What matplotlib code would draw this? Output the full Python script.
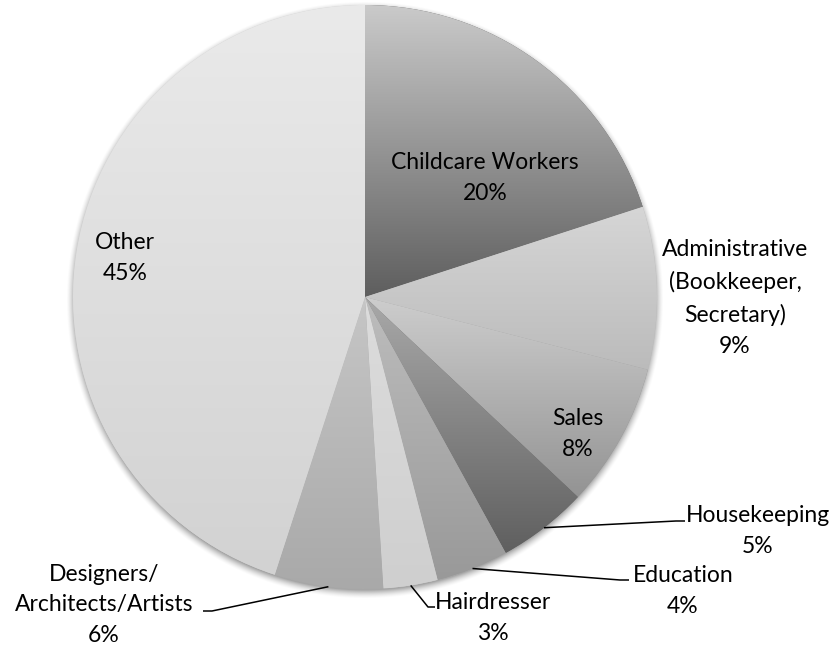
import numpy as np
import matplotlib
matplotlib.use("Agg")
import matplotlib.pyplot as plt
from matplotlib.colors import LinearSegmentedColormap

# Occupation shares (percent), clockwise from 12 o'clock
categories = [
    "Childcare Workers",
    "Administrative\n(Bookkeeper,\nSecretary)",
    "Sales",
    "Housekeeping",
    "Education",
    "Hairdresser",
    "Designers/\nArchitects/Artists",
    "Other",
]
shares = [20, 9, 8, 5, 4, 3, 6, 45]

# Vertical gradient per slice: (top colour, bottom colour)
top_colors = ["#cacaca", "#d6d6d6", "#cdcdcd", "#a9a9a9", "#bdbdbd", "#dcdcdc", "#c6c6c6", "#eaeaea"]
bottom_colors = ["#5e5e5e", "#bbbbbb", "#939393", "#5f5f5f", "#999999", "#cfcfcf", "#a9a9a9", "#d2d2d2"]

# Label placement in pixel coordinates (x, y from the top), and leader-line elbows
label_pos = [(485, 178), (735, 298), (578, 434), (758, 531), (683, 591), (493, 618), (104, 605), (125, 258)]
leader_elbow = {3: ((676, 521), (685, 521)),
                4: ((620, 580), (629, 580)),
                5: ((428, 607), (435, 607)),
                6: ((212, 611), (203, 611))}

W, H = 839, 647
fig = plt.figure(figsize=(W / 100, H / 100), dpi=100)
ax = fig.add_axes([0, 0, 1, 1])

cx, cy, R = 365, H - 297, 292

wedges, _ = ax.pie(shares, startangle=90, counterclock=False,
                   center=(cx, cy), radius=R,
                   wedgeprops=dict(linewidth=0, edgecolor="none"))
ax.set_xlim(0, W)
ax.set_ylim(0, H)
ax.set_aspect("equal")
ax.axis("off")

# soft drop shadow beneath the pie
gx, gy = np.meshgrid(np.arange(W) + 0.5, np.arange(H) + 0.5)
d = np.hypot(gx - cx, gy - (cy - 3))
alpha = np.clip(1 - (d - R + 2) / 9.0, 0, 1) ** 1.6 * 0.35
shadow = np.zeros((H, W, 4))
shadow[..., 3] = alpha
ax.imshow(shadow, extent=(0, W, 0, H), origin="lower", zorder=0, interpolation="bilinear")

grad = np.linspace(0, 1, 256).reshape(-1, 1)
for w, ct, cb in zip(wedges, top_colors, bottom_colors):
    w.set_facecolor(cb)
    w.set_zorder(1)
    ext = w.get_path().get_extents()
    cmap = LinearSegmentedColormap.from_list("g", [cb, ct])
    im = ax.imshow(grad, extent=(ext.x0, ext.x1, ext.y0, ext.y1), origin="lower",
                   cmap=cmap, aspect="auto", zorder=2, interpolation="bilinear")
    im.set_clip_path(w)

font = "Lato"
for i, (name, val) in enumerate(zip(categories, shares)):
    px, py = label_pos[i]
    ax.text(px, H - py, f"{name}\n{val}%", ha="center", va="center",
            fontsize=16.5, family=font, color="#000000", linespacing=1.58, zorder=5)
    if i in leader_elbow:
        w = wedges[i]
        mid = np.deg2rad((w.theta1 + w.theta2) / 2)
        sx, sy = cx + R * np.cos(mid), cy + R * np.sin(mid)
        (ex, ey), (hx, hy) = leader_elbow[i]
        ax.plot([sx, ex, hx], [sy, H - ey, H - hy], color="#000000", lw=1.1,
                solid_capstyle="butt", zorder=4)

fig.savefig("out.png", dpi=100, facecolor="white")
